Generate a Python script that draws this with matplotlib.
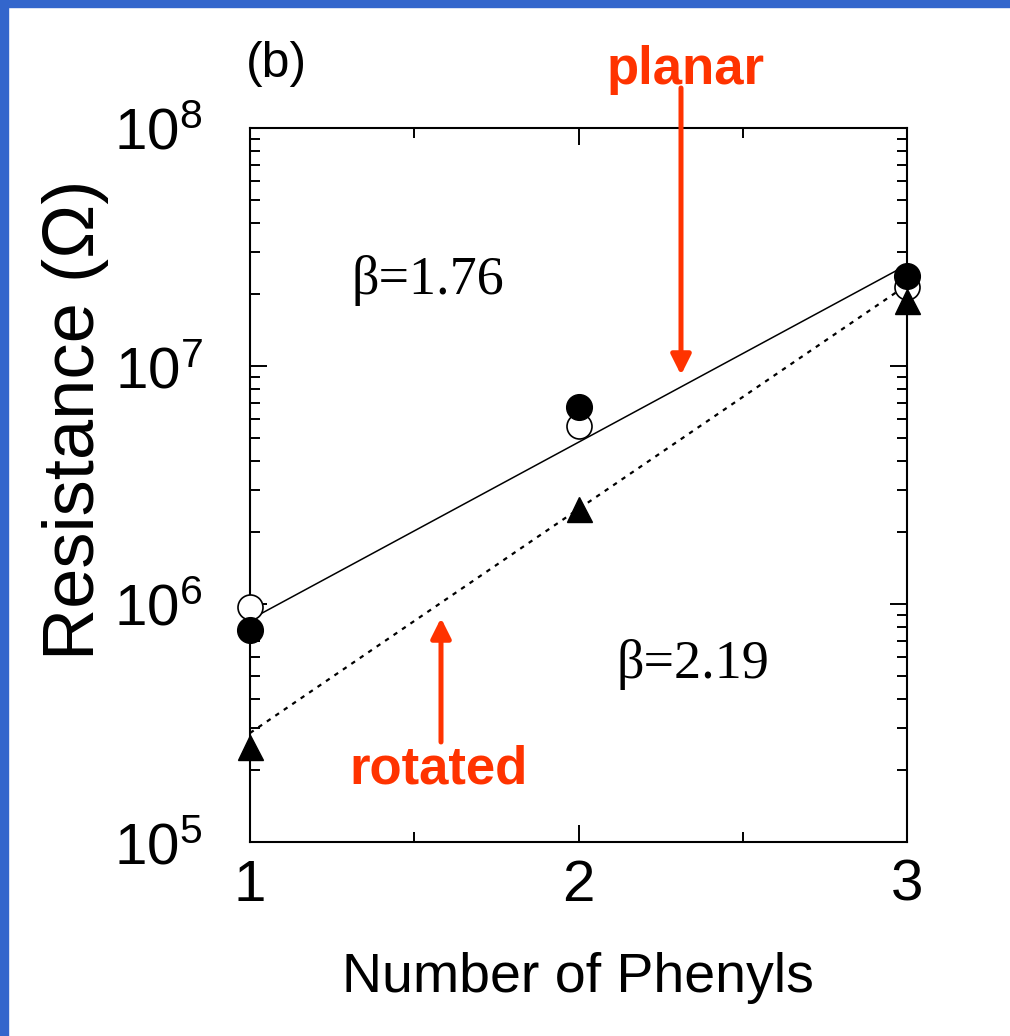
"""
Resistance vs number of phenyls, planar and rotated molecules (panel b).
"""
#-----------------------------------------------------------------------------
## Libraries
#-----------------------------------------------------------------------------
import matplotlib
matplotlib.use('Agg')
import numpy as np
import matplotlib.pyplot as plt
from matplotlib.patches import Rectangle
from matplotlib.ticker import FixedLocator, LogLocator, FuncFormatter, NullFormatter
#-----------------------------------------------------------------------------
## Data
#-----------------------------------------------------------------------------
phenyls = [1, 2, 3]
R_filled = [7.8e5, 6.7e6, 2.4e7]
R_open = [9.7e5, 5.6e6, 2.15e7]
R_triangle = [2.5e5, 2.5e6, 1.87e7]
fit_n = [1, 3]
fit_planar = [8.6e5, 2.66e7]
fit_rotated = [2.87e5, 2.19e7]
beta_planar = 'β=1.76'
beta_rotated = 'β=2.19'
xticks = [1, 2, 3]
yticks = [1e5, 1e6, 1e7, 1e8]
#-----------------------------------------------------------------------------
## Figure settings
#-----------------------------------------------------------------------------
W, H = 1010, 1036
plt.rcParams['mathtext.fontset'] = 'custom'
plt.rcParams['mathtext.rm'] = 'Liberation Sans'
sans = ['Liberation Sans', 'DejaVu Sans']
red = '#FF3300'

def px(x, y):
    # image pixel -> figure fraction
    return x / W, 1 - y / H

fig = plt.figure(figsize=(W / 100, H / 100), dpi=100)
fig.patches.append(Rectangle((0, 0), 8 / W, 1, transform=fig.transFigure, color='#3366CC', zorder=0))
fig.patches.append(Rectangle((0, 1 - 7 / H), 1, 7 / H, transform=fig.transFigure, color='#3366CC', zorder=0))

ax = fig.add_axes([250 / W, 1 - 842 / H, 657 / W, 714 / H])
#-----------------------------------------------------------------------------
## Plotting points and fits
#-----------------------------------------------------------------------------
ax.plot(fit_n, fit_planar, color='black', lw=1.1, zorder=2)
ax.plot(fit_n, fit_rotated, color='black', lw=1.6, linestyle=(0, (2, 2.6)), zorder=2)
ax.plot(phenyls, R_open, 'o', ms=18, mfc='white', mec='black', mew=1.2, clip_on=False, zorder=3)
ax.plot(phenyls, R_filled, 'o', ms=18.5, color='black', clip_on=False, zorder=4)
ax.plot(phenyls, R_triangle, '^', ms=18, color='black', clip_on=False, zorder=4)
#-----------------------------------------------------------------------------
## Axes
#-----------------------------------------------------------------------------
ax.set_yscale('log')
ax.set_xlim(1, 3)
ax.set_ylim(1e5, 1e8)
ax.xaxis.set_major_locator(FixedLocator(xticks))
ax.xaxis.set_minor_locator(FixedLocator([1.5, 2.5]))
ax.yaxis.set_major_locator(FixedLocator(yticks))
ax.yaxis.set_minor_locator(LogLocator(base=10, subs=np.arange(2, 10)))
ax.yaxis.set_minor_formatter(NullFormatter())
ax.yaxis.set_major_formatter(FuncFormatter(lambda v, p: r'$\mathregular{10^{%d}}$' % round(np.log10(v))))
ax.xaxis.set_major_formatter(FuncFormatter(lambda v, p: '%d' % v))
for s in ax.spines.values():
    s.set_linewidth(1.5)
ax.tick_params(which='both', direction='in', top=True, right=True, width=1.4)
ax.tick_params(which='major', length=12)
ax.tick_params(which='minor', length=7)
ax.tick_params(axis='x', which='major', pad=12, labelsize=42)
ax.tick_params(axis='y', which='major', pad=34, labelsize=42)
for lab in ax.get_xticklabels() + ax.get_yticklabels():
    lab.set_family(sans)
#-----------------------------------------------------------------------------
## Labels and annotations
#-----------------------------------------------------------------------------
fig.text(*px(76, 420), 'Resistance (Ω)', rotation=90, ha='center', va='center', fontsize=52, family=sans)
fig.text(*px(578, 978), 'Number of Phenyls', ha='center', va='center', fontsize=40, family=sans)
fig.text(*px(276, 64), '(b)', ha='center', va='center', fontsize=36, family=sans)
fig.text(*px(428, 280), beta_planar, ha='center', va='center', fontsize=39, family=['Liberation Serif', 'DejaVu Serif'])
fig.text(*px(693, 665), beta_rotated, ha='center', va='center', fontsize=39, family=['Liberation Serif', 'DejaVu Serif'])
fig.text(*px(686, 70), 'planar', ha='center', va='center', fontsize=38, fontweight='bold', color=red, family=sans)
fig.text(*px(439, 770), 'rotated', ha='center', va='center', fontsize=38, fontweight='bold', color=red, family=sans)
arrow = dict(arrowstyle='-|>,head_length=0.6,head_width=0.3', color=red, lw=3.6, mutation_scale=20, shrinkA=0, shrinkB=0)
ax.annotate('', xy=px(681, 375), xytext=px(681, 88), xycoords='figure fraction', textcoords='figure fraction', arrowprops=arrow)
ax.annotate('', xy=px(441, 618), xytext=px(441, 742), xycoords='figure fraction', textcoords='figure fraction', arrowprops=arrow)
#-----------------------------------------------------------------------------
## Saving figure
#-----------------------------------------------------------------------------
plt.savefig('out.png', dpi=100, facecolor='white')
